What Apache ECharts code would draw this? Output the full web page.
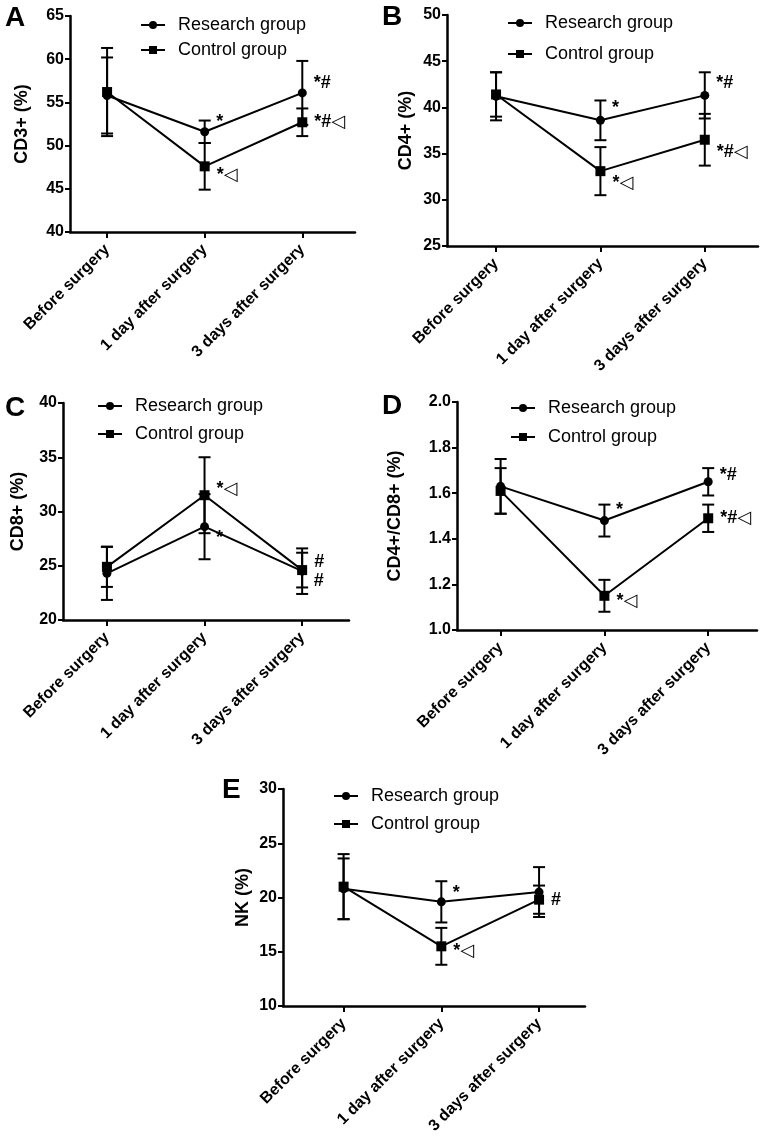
<!DOCTYPE html>
<html>
<head>
<meta charset="utf-8">
<script src="https://cdn.jsdelivr.net/npm/echarts@6/dist/echarts.min.js"></script>
<style>
html,body{margin:0;padding:0;background:#fff;}
#chart{width:765px;height:1138px;}
</style>
</head>
<body>
<div id="chart"></div>
<script>
// ---------- DATA ----------
const categories = ['Before surgery', '1 day after surgery', '3 days after surgery'];
const groupNames = ['Research group', 'Control group'];

// A: CD3+
const cd3Research = [55.8, 51.6, 56.1];
const cd3ResearchSD = [4.4, 1.3, 3.7];
const cd3Control = [56.2, 47.6, 52.7];
const cd3ControlSD = [5.1, 2.7, 1.6];
const cd3ResearchNote = ['', '*', '*#'];
const cd3ControlNote = ['', '*◁', '*#◁'];

// B: CD4+
const cd4Research = [41.2, 38.6, 41.3];
const cd4ResearchSD = [2.6, 2.15, 2.5];
const cd4Control = [41.4, 33.1, 36.5];
const cd4ControlSD = [2.4, 2.6, 2.8];
const cd4ResearchNote = ['', '*', '*#'];
const cd4ControlNote = ['', '*◁', '*#◁'];

// C: CD8+
const cd8Research = [24.3, 28.6, 24.5];
const cd8ResearchSD = [2.45, 3.0, 2.1];
const cd8Control = [24.9, 31.5, 24.6];
const cd8ControlSD = [1.85, 3.5, 1.6];
const cd8ResearchNote = ['', '*', '#'];
const cd8ControlNote = ['', '*◁', '#'];

// D: CD4+/CD8+
const ratioResearch = [1.63, 1.48, 1.65];
const ratioResearchSD = [0.12, 0.07, 0.06];
const ratioControl = [1.61, 1.15, 1.49];
const ratioControlSD = [0.10, 0.07, 0.06];
const ratioResearchNote = ['', '*', '*#'];
const ratioControlNote = ['', '*◁', '*#◁'];

// E: NK
const nkResearch = [20.8, 19.6, 20.5];
const nkResearchSD = [2.8, 1.9, 2.3];
const nkControl = [21.0, 15.5, 19.8];
const nkControlSD = [3.0, 1.7, 1.3];
const nkResearchNote = ['', '*', ''];
const nkControlNote = ['', '*◁', '#'];

const panelLetters = ['A', 'B', 'C', 'D', 'E'];
const yNames = ['CD3+ (%)', 'CD4+ (%)', 'CD8+ (%)', 'CD4+/CD8+ (%)', 'NK (%)'];
const yMin = [40, 25, 20, 1.0, 10];
const yMax = [65, 50, 40, 2.0, 30];
const yInterval = [5, 5, 5, 0.2, 5];

// ---------- LAYOUT / STYLE ----------
const panels = [
  {r: cd3Research, rs: cd3ResearchSD, c: cd3Control, cs: cd3ControlSD, rn: cd3ResearchNote, cn: cd3ControlNote},
  {r: cd4Research, rs: cd4ResearchSD, c: cd4Control, cs: cd4ControlSD, rn: cd4ResearchNote, cn: cd4ControlNote},
  {r: cd8Research, rs: cd8ResearchSD, c: cd8Control, cs: cd8ControlSD, rn: cd8ResearchNote, cn: cd8ControlNote},
  {r: ratioResearch, rs: ratioResearchSD, c: ratioControl, cs: ratioControlSD, rn: ratioResearchNote, cn: ratioControlNote},
  {r: nkResearch, rs: nkResearchSD, c: nkControl, cs: nkControlSD, rn: nkResearchNote, cn: nkControlNote}
];
const layout = [
  {grid:{left:70, top:16, width:285, height:216}, xr:[-0.38, 2.54], nameGap:39,
   legend:{left:135, top:11, gap:7}, letter:{left:5, top:4},
   rOff:[[0,0],[0,-10],[0,-10]], cOff:[[0,0],[0,9],[0,0]]},
  {grid:{left:447, top:15, width:311, height:231}, xr:[-0.47, 2.51], nameGap:32,
   legend:{left:502, top:9, gap:13}, letter:{left:382, top:3},
   rOff:[[0,0],[0,-12],[0,-12]], cOff:[[0,0],[0,12],[0,12]]},
  {grid:{left:63, top:403, width:286, height:217}, xr:[-0.45, 2.48], nameGap:36,
   legend:{left:92, top:392, gap:10}, letter:{left:5, top:394},
   rOff:[[0,0],[0,11],[0,10]], cOff:[[0,0],[0,-6],[0,-8]]},
  {grid:{left:457, top:402, width:300, height:228}, xr:[-0.42, 2.47], nameGap:53,
   legend:{left:505, top:394, gap:11}, letter:{left:382, top:392},
   rOff:[[0,0],[0,-11],[0,-7]], cOff:[[0,0],[0,5],[0,0]]},
  {grid:{left:283, top:789, width:302, height:217}, xr:[-0.62, 2.47], nameGap:31,
   legend:{left:328, top:782, gap:10}, letter:{left:222, top:776},
   rOff:[[0,0],[0,-9],[0,0]], cOff:[[0,0],[0,5],[0,0]]}
];

const FONT = "'Liberation Sans', Arial, 'DejaVu Sans', sans-serif";
const BLACK = '#000';

const grids = [], xAxes = [], yAxes = [], series = [], legends = [], graphics = [];

function errRender(params, api) {
  const x = api.value(0), lo = api.value(1), hi = api.value(2);
  const pLo = api.coord([x, lo]), pHi = api.coord([x, hi]);
  const hw = 6;
  const st = {stroke: BLACK, lineWidth: 2};
  return {type: 'group', children: [
    {type: 'line', shape: {x1: pLo[0], y1: pLo[1], x2: pHi[0], y2: pHi[1]}, style: st},
    {type: 'line', shape: {x1: pLo[0] - hw, y1: pLo[1], x2: pLo[0] + hw, y2: pLo[1]}, style: st},
    {type: 'line', shape: {x1: pHi[0] - hw, y1: pHi[1], x2: pHi[0] + hw, y2: pHi[1]}, style: st}
  ]};
}

panels.forEach((p, i) => {
  const L = layout[i];
  grids.push(Object.assign({containLabel: false}, L.grid));
  xAxes.push({
    type: 'value', gridIndex: i, min: L.xr[0], max: L.xr[1],
    splitLine: {show: false},
    axisLine: {show: true, onZero: false, lineStyle: {color: BLACK, width: 2.5}},
    axisTick: {show: true, customValues: [0, 1, 2], length: 6, lineStyle: {color: BLACK, width: 2}},
    axisLabel: {customValues: [0, 1, 2], rotate: 45, margin: 15, color: BLACK, fontSize: 16,
      fontWeight: 'bold', fontFamily: FONT, formatter: v => categories[Math.round(v)]}
  });
  yAxes.push({
    type: 'value', gridIndex: i, min: yMin[i], max: yMax[i], interval: yInterval[i],
    name: yNames[i], nameLocation: 'middle', nameGap: L.nameGap,
    nameTextStyle: {color: BLACK, fontSize: 18, fontWeight: 'bold', fontFamily: FONT},
    splitLine: {show: false},
    axisLine: {show: true, onZero: false, lineStyle: {color: BLACK, width: 2.5}},
    axisTick: {show: true, length: 5, lineStyle: {color: BLACK, width: 2}},
    axisLabel: {color: BLACK, fontSize: 16, fontWeight: 'bold', fontFamily: FONT, margin: 6,
      formatter: v => (i === 3 ? v.toFixed(1) : String(v))}
  });
  const groups = [
    {name: groupNames[0], vals: p.r, sd: p.rs, notes: p.rn, off: L.rOff, symbol: 'circle', size: 9},
    {name: groupNames[1], vals: p.c, sd: p.cs, notes: p.cn, off: L.cOff, symbol: 'rect', size: 10}
  ];
  groups.forEach(g => {
    series.push({
      type: 'custom', name: 'err-' + g.name, xAxisIndex: i, yAxisIndex: i,
      renderItem: errRender, silent: true, z: 2,
      encode: {x: 0, y: [1, 2]},
      data: g.vals.map((v, k) => [k, v - g.sd[k], v + g.sd[k]])
    });
    series.push({
      type: 'line', name: g.name, xAxisIndex: i, yAxisIndex: i, z: 3,
      symbol: g.symbol, symbolSize: g.size, showAllSymbol: true,
      lineStyle: {color: BLACK, width: 2}, itemStyle: {color: BLACK},
      emphasis: {disabled: true},
      data: g.vals.map((v, k) => ({
        value: [k, v],
        label: {
          show: g.notes[k] !== '', formatter: g.notes[k], position: 'right', distance: 7,
          offset: g.off[k], color: BLACK, fontSize: 18, fontWeight: 'bold', fontFamily: FONT
        }
      }))
    });
  });
  legends.push({
    orient: 'vertical', left: L.legend.left, top: L.legend.top, itemGap: L.legend.gap,
    itemWidth: 24, itemHeight: 10, selectedMode: false,
    data: groupNames,
    textStyle: {color: BLACK, fontSize: 18, fontFamily: FONT, padding: [0, 0, 0, 8]}
  });
  graphics.push({
    type: 'text', left: L.letter.left, top: L.letter.top,
    style: {text: panelLetters[i], fill: BLACK, font: "bold 28px 'Liberation Sans', Arial, sans-serif"}
  });
});

const chart = echarts.init(document.getElementById('chart'), null, {renderer: 'canvas'});
chart.setOption({
  backgroundColor: '#fff',
  animation: false,
  grid: grids,
  xAxis: xAxes,
  yAxis: yAxes,
  legend: legends,
  graphic: graphics,
  series: series
});
</script>
</body>
</html>
